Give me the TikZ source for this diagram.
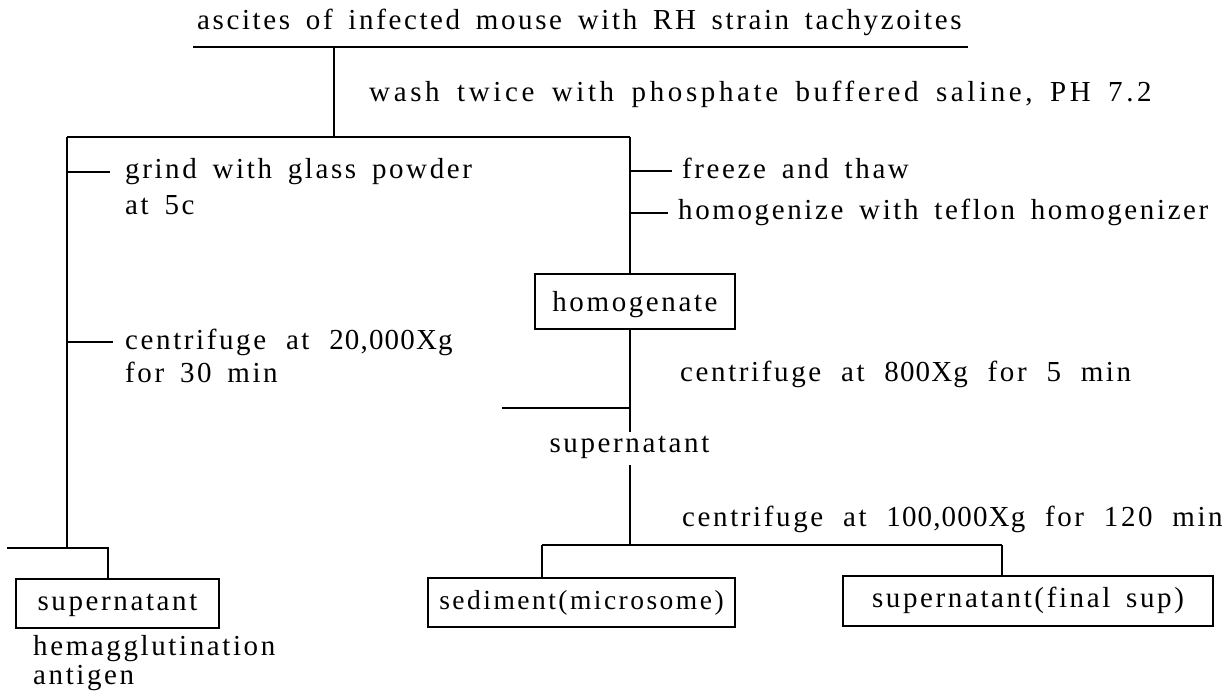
\documentclass[tikz,border=0pt]{standalone}
\usepackage{fontspec}
\newfontfamily\tf[LetterSpace=9,WordSpace=1.6]{Liberation Serif}
\newfontfamily\tfa[LetterSpace=12.5,WordSpace=1.6]{Liberation Serif}
\newfontfamily\nf[LetterSpace=4]{Liberation Serif}
\newcommand\xs{\hspace{4pt}}
\begin{document}
\begin{tikzpicture}[x=1pt,y=-1pt,
  every node/.style={font={\tf\fontsize{29}{33}\selectfont}, inner sep=0pt},
  ln/.style={line width=2.2pt},
  box/.style={draw, line width=2.2pt, text height=19pt, text depth=6pt},
  lbl/.style={anchor=base west}]
\useasboundingbox (0,0) rectangle (1228,693);

% title and underline
\node[lbl] (title) at (197,30) {ascites of infected mouse with RH strain tachyzoites};
\coordinate (ulL) at (193,47);
\coordinate (ulR) at (968,47);
\draw[ln] (ulL) -- (ulR);
\coordinate (j0) at (334,47);
\coordinate (j1) at (334,137);
\draw[ln] (j0) -- (j1);
\node[lbl, font={\tfa\fontsize{29}{33}\selectfont}] (wash) at (369,101) {wash twice with phosphate buffered saline, PH 7.2};

% main split
\coordinate (hL) at (67,137);
\coordinate (hR) at (630,137);
\draw[ln] (hL) -- (hR);

% left branch
\coordinate (lB) at (67,548);
\draw[ln] (hL) -- (lB);
\coordinate (t1a) at (67,172);
\coordinate (t1b) at (110,172);
\draw[ln] (t1a) -- (t1b);
\node[lbl] (grind) at (125,178) {grind with glass powder};
\node[lbl] (at5) at (125,214) {at 5c};
\coordinate (t2a) at (67,342);
\coordinate (t2b) at (113,342);
\draw[ln] (t2a) -- (t2b);
\node[lbl] (cf1) at (125,349) {centrifuge \xs at \xs{\nf 20,000Xg}};
\node[lbl] (cf1b) at (125,382) {for 30 min};
\coordinate (lL) at (7,548);
\coordinate (lR) at (108,548);
\node[box, minimum width=203pt, minimum height=49pt] (sup1) at (117.5,603.5) {supernatant};
\draw[ln] (lL) -- (lR) -- (lR |- sup1.north);
\node[lbl] (hema) at (33,655) {hemagglutination};
\node[lbl] (anti) at (33,684) {antigen};

% right branch
\node[box, minimum width=200pt, minimum height=55pt, text height=23pt, text depth=4pt] (homog) at (635,301.5) {homogenate};
\draw[ln] (hR) -- (hR |- homog.north);
\coordinate (t3a) at (630,171);
\coordinate (t3b) at (672,171);
\draw[ln] (t3a) -- (t3b);
\node[lbl] (freeze) at (682,178) {freeze and thaw};
\coordinate (t4a) at (630,213);
\coordinate (t4b) at (668,213);
\draw[ln] (t4a) -- (t4b);
\node[lbl] (homoz) at (678,219) {homogenize with teflon homogenizer};

\node[lbl] (cf2) at (680,381) {centrifuge \xs at \xs{\nf 800Xg} \xs for \xs 5 \xs min};
\node[anchor=base, text height=20pt, text depth=13pt] (supmid) at (629.5,452) {supernatant};
\draw[ln] (hR |- homog.south) -- (hR |- supmid.north);
\coordinate (st) at (502,408);
\draw[ln] (st) -- (st -| hR);
\coordinate (j2) at (630,545);
\draw[ln] (hR |- supmid.south) -- (j2);
\node[lbl] (cf3) at (682,526) {centrifuge \xs at \xs{\nf 100,000Xg} \xs for \xs 120 \xs min};

\coordinate (j2L) at (542,545);
\coordinate (j2R) at (1002,545);
\draw[ln] (j2L) -- (j2R);
\node[box, minimum width=307pt, minimum height=49pt, font={\tf\fontsize{27.5}{33}\selectfont}] (sed) at (581.5,602.5) {sediment(microsome)};
\node[box, minimum width=370pt, minimum height=50pt] (fin) at (1028,601) {supernatant(final sup)};
\draw[ln] (j2L) -- (j2L |- sed.north);
\draw[ln] (j2R) -- (j2R |- fin.north);
\end{tikzpicture}
\end{document}
